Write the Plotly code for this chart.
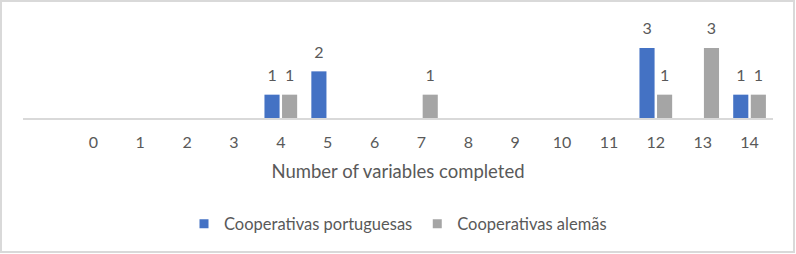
import plotly.graph_objects as go

categories = list(range(15))
tick_labels = [str(c) for c in categories]
portuguesas = [None, None, None, None, 1, 2, None, None, None, None, None, None, 3, None, 1]
alemas = [None, None, None, None, 1, None, None, 1, None, None, None, None, 1, 3, 1]
series_names = ["Cooperativas portuguesas", "Cooperativas alemãs"]

FONT = "Lato"
TXT = "#595959"
BLUE = "#4472C4"
GRAY = "#A5A5A5"

W, H = 796, 254
ml, mr, mt, mb = 23, 23, 24, 136

series = [(portuguesas, series_names[0], BLUE, "p"), (alemas, series_names[1], GRAY, "a")]

fig = go.Figure()
for vals, name, col, g in series:
    fig.add_trace(go.Bar(
        x=categories, y=vals, name=name, showlegend=False,
        offsetgroup=g, alignmentgroup="all",
        marker=dict(color=col, line=dict(width=0)),
    ))
for vals, name, col, g in series:
    fig.add_trace(go.Scatter(
        x=categories, y=vals, name=name, showlegend=False,
        offsetgroup=g, alignmentgroup="all",
        mode="markers+text", text=vals, textposition="top center",
        marker=dict(size=14, opacity=0, color=col),
        textfont=dict(family=FONT, size=16, color=TXT), cliponaxis=False,
        hoverinfo="skip",
    ))
for vals, name, col, g in series:
    fig.add_trace(go.Scatter(
        x=[None], y=[None], name=name, mode="markers",
        marker=dict(symbol="square", size=9, color=col),
    ))

pw = W - ml - mr
ph = H - mt - mb
fig.add_shape(type="rect", xref="paper", yref="paper",
              x0=-(ml - 1) / pw, x1=1 + (mr - 2) / pw,
              y0=-(mb - 2) / ph, y1=1 + (mt - 1) / ph,
              line=dict(color="#D9D9D9", width=2), layer="below")

fig.update_layout(
    width=W, height=H,
    margin=dict(l=ml, r=mr, t=mt, b=mb, pad=0),
    paper_bgcolor="white", plot_bgcolor="white",
    barmode="group", bargap=0.25, bargroupgap=0.14,
    scattermode="group", scattergap=0.25,
    font=dict(family=FONT, size=16, color=TXT),
    showlegend=True,
    legend=dict(orientation="h", x=0.5, xanchor="center",
                y=-(224 - (mt + ph)) / ph, yanchor="middle",
                font=dict(family=FONT, size=16.5, color=TXT), itemwidth=30,
                traceorder="normal"),
)
fig.update_xaxes(
    range=[-1.5, 14.5], tickvals=categories, ticktext=tick_labels,
    showline=True, linecolor="#D9D9D9", linewidth=1.5,
    showgrid=False, zeroline=False, ticks="", ticklabelstandoff=9,
    tickfont=dict(family=FONT, size=16, color=TXT),
    title=dict(text="Number of variables completed", standoff=15,
               font=dict(family=FONT, size=18.5, color=TXT)),
)
fig.update_yaxes(range=[0, 4.03], visible=False, showgrid=False, zeroline=False)

fig.write_html("out.html")
